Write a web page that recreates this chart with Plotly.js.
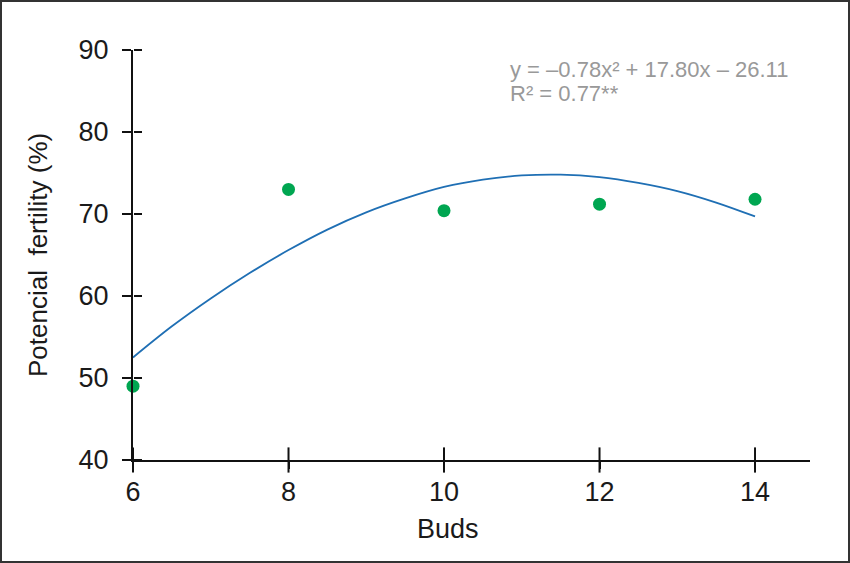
<!DOCTYPE html>
<html>
<head>
<meta charset="utf-8">
<script src="https://cdn.plot.ly/plotly-3.0.1.min.js"></script>
<style>
  html, body { margin: 0; padding: 0; background: #fff; }
  #wrap { position: relative; width: 850px; height: 563px; }
  #chart { width: 850px; height: 563px; }
  #frame { position: absolute; left: 0; top: 0; width: 850px; height: 563px; box-sizing: border-box; border: 2px solid #333; pointer-events: none; }
</style>
</head>
<body>
<div id="wrap"><div id="chart"></div><div id="frame"></div></div>
<script>
// Observed data
var buds = [6, 8, 10, 12, 14];
var fertility = [49.0, 73.0, 70.4, 71.2, 71.8];

// Trend line
var trendX = [6, 6.5, 7, 7.5, 8, 8.5, 9, 9.5, 10, 10.5, 11, 11.5, 12, 12.5, 13, 13.5, 14];
var trendY = [52.5, 56.3, 59.7, 62.8, 65.6, 68.1, 70.2, 71.9, 73.3, 74.2, 74.7, 74.8, 74.5, 73.8, 72.8, 71.4, 69.7];

var xTicks = [6, 8, 10, 12, 14];
var yTicks = [40, 50, 60, 70, 80, 90];
var equationText = 'y = –0.78x² + 17.80x – 26.11';
var r2Text = 'R² = 0.77**';
var xTitle = 'Buds';
var yTitle = 'Potencial&nbsp; fertility (%)';

var xRange = [6, 14.707];
var yRange = [40, 90];

var data = [
  {
    x: trendX, y: trendY, type: 'scatter', mode: 'lines',
    line: { color: '#1f6fb4', width: 1.8, shape: 'spline' },
    hoverinfo: 'skip', showlegend: false, cliponaxis: false
  },
  {
    x: buds, y: fertility, type: 'scatter', mode: 'markers',
    marker: { color: '#00a651', size: 13 },
    showlegend: false, cliponaxis: false
  },
  {
    x: buds, y: fertility, xaxis: 'x', yaxis: 'y2', type: 'scatter', mode: 'markers',
    marker: { opacity: 0 }, showlegend: false, hoverinfo: 'skip'
  },
  {
    // crossing x tick marks, one per x tick value, sitting on the x axis line
    x: xTicks, y: xTicks.map(function () { return yRange[0]; }),
    type: 'scatter', mode: 'markers', cliponaxis: false,
    marker: { symbol: 'line-ns-open', size: 18, color: '#111', line: { color: '#111', width: 2 } },
    showlegend: false, hoverinfo: 'skip'
  }
];

var tickFont = { family: 'Liberation Sans, Arial, sans-serif', size: 27, color: '#1a1a1a' };

var layout = {
  width: 850, height: 563,
  margin: { l: 133, r: 40, t: 50, b: 103 },
  paper_bgcolor: '#ffffff', plot_bgcolor: '#ffffff',
  showlegend: false,
  xaxis: {
    range: xRange, tickvals: xTicks, ticktext: xTicks.map(String),
    ticks: 'outside', ticklen: 7, tickwidth: 2, tickcolor: '#111',
    showline: true, linecolor: '#111', linewidth: 2,
    showgrid: false, zeroline: false, tickfont: tickFont,
    ticklabelstandoff: 0, anchor: 'y'
  },
  yaxis: {
    range: yRange, tickvals: yTicks, ticktext: yTicks.map(String),
    ticks: 'outside', ticklen: 9, tickwidth: 2, tickcolor: '#111',
    showline: true, linecolor: '#111', linewidth: 2,
    showgrid: false, zeroline: false, tickfont: tickFont,
    ticklabelstandoff: 8, anchor: 'x'
  },
  yaxis2: {
    overlaying: 'y', anchor: 'free', position: 0, side: 'right',
    range: yRange, tickvals: yTicks, ticktext: yTicks.map(function () { return ''; }),
    ticks: 'outside', ticklen: 8, tickwidth: 2, tickcolor: '#111',
    showticklabels: false, showline: false, showgrid: false, zeroline: false
  },
  annotations: [
    {
      text: equationText, xref: 'x', yref: 'paper', x: 10.823, y: (460 - 69) / 410,
      xanchor: 'left', yanchor: 'middle', showarrow: false,
      font: { family: 'Liberation Sans, Arial, sans-serif', size: 22, color: '#999999' }
    },
    {
      text: r2Text, xref: 'x', yref: 'paper', x: 10.823, y: (460 - 93) / 410,
      xanchor: 'left', yanchor: 'middle', showarrow: false,
      font: { family: 'Liberation Sans, Arial, sans-serif', size: 22, color: '#999999' }
    },
    {
      text: xTitle, xref: 'paper', yref: 'paper', x: (448 - 133) / 677, y: (460 - 529) / 410,
      xanchor: 'center', yanchor: 'middle', showarrow: false,
      font: { family: 'Liberation Sans, Arial, sans-serif', size: 27, color: '#1a1a1a' }
    },
    {
      text: yTitle, xref: 'paper', yref: 'paper', x: (38 - 133) / 677, y: (460 - 255) / 410,
      xanchor: 'center', yanchor: 'middle', textangle: -90, showarrow: false,
      font: { family: 'Liberation Sans, Arial, sans-serif', size: 26, color: '#1a1a1a' }
    }
  ]
};

Plotly.newPlot('chart', data, layout, { staticPlot: true, displayModeBar: false });
</script>
</body>
</html>
